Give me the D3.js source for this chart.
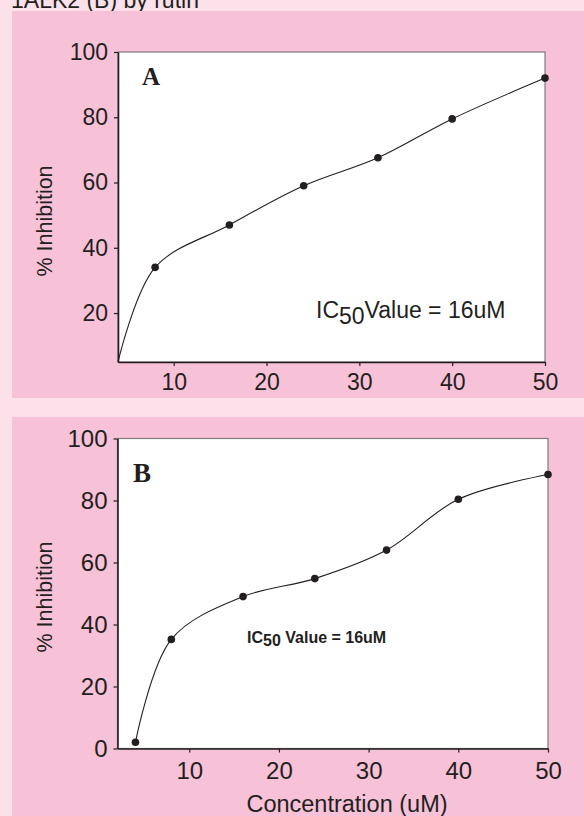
<!DOCTYPE html>
<html>
<head>
<meta charset="utf-8">
<script src="https://cdn.jsdelivr.net/npm/d3@7"></script>
<style>
  html, body { margin: 0; padding: 0; background: #fce1eb; }
  svg { display: block; }
  .tick text { font-family: "Liberation Sans", Arial, sans-serif; fill: #231f20; }
</style>
</head>
<body>
<svg id="fig" width="584" height="816"></svg>
<script>
// Panel A: ALK1 inhibition by concentration
const concA = [8, 16, 24, 32, 40, 50];
const inhibA = [34, 47, 59, 67.6, 79.5, 92];
const curveStartA = [4, 5];   // fitted curve begins at the axis origin

// Panel B: ALK2 inhibition by concentration
const concB = [4, 8, 16, 24, 32, 40, 50];
const inhibB = [2, 35.2, 49, 54.8, 64, 80.4, 88.4];

const xTicks = [10, 20, 30, 40, 50];
const yTicksA = [20, 40, 60, 80, 100];
const yTicksB = [0, 20, 40, 60, 80, 100];

const captionText = "1ALK2 (B) by rutin";
const yLabel = "% Inhibition";
const xLabel = "Concentration (uM)";

const ink = "#231f20";
const svg = d3.select("#fig");

// page caption (top line runs past the page edge)
svg.append("text")
  .attr("x", 11).attr("y", 8)
  .attr("font-family", "Liberation Sans, Arial, sans-serif")
  .attr("font-size", 23)
  .attr("fill", ink)
  .text(captionText);

// pink panel backgrounds
svg.append("rect").attr("x", 12).attr("y", 11).attr("width", 572).attr("height", 387).attr("fill", "#f7c1d7");
svg.append("rect").attr("x", 12).attr("y", 417).attr("width", 572).attr("height", 399).attr("fill", "#f7c1d7");

function panel(cfg) {
  const g = svg.append("g");
  const x = d3.scaleLinear().domain(cfg.xDomain).range([cfg.left, cfg.right]);
  const y = d3.scaleLinear().domain(cfg.yDomain).range([cfg.bottom, cfg.top]);

  // plot area
  g.append("rect")
    .attr("x", cfg.left).attr("y", cfg.top)
    .attr("width", cfg.right - cfg.left).attr("height", cfg.bottom - cfg.top)
    .attr("fill", "#fff").attr("stroke", "#7d7b7c").attr("stroke-width", 1.2);

  // axes
  const xa = g.append("g").attr("transform", `translate(0,${cfg.bottom})`)
    .call(d3.axisBottom(x).tickValues(xTicks).tickSize(4).tickSizeOuter(0).tickPadding(cfg.xPad));
  const ya = g.append("g").attr("transform", `translate(${cfg.left},0)`)
    .call(d3.axisLeft(y).tickValues(cfg.yTicks).tickSize(4).tickSizeOuter(0).tickPadding(6));
  [xa, ya].forEach(a => {
    a.attr("font-size", cfg.tickFont).attr("font-family", "Liberation Sans, Arial, sans-serif");
    a.select(".domain").attr("stroke", ink).attr("stroke-width", 1.6);
    a.selectAll(".tick line").attr("stroke", ink).attr("stroke-width", 1.2);
    a.selectAll(".tick text").attr("font-size", cfg.tickFont).attr("fill", ink);
  });

  // fitted curve
  const line = d3.line().x(d => x(d[0])).y(d => y(d[1])).curve(d3.curveCatmullRom.alpha(0.5));
  g.append("path").datum(cfg.curve)
    .attr("d", line).attr("fill", "none").attr("stroke", ink).attr("stroke-width", 1.1);

  // measured points
  g.selectAll("circle.pt").data(cfg.points).join("circle")
    .attr("class", "pt")
    .attr("cx", d => x(d[0])).attr("cy", d => y(d[1])).attr("r", 3.8)
    .attr("fill", ink);

  // panel letter
  g.append("text")
    .attr("x", cfg.letterX).attr("y", cfg.letterY)
    .attr("font-family", "Liberation Serif, Times New Roman, serif")
    .attr("font-weight", "bold").attr("font-size", cfg.letterSize)
    .attr("fill", ink).text(cfg.letter);

  // y axis title
  g.append("text")
    .attr("transform", `translate(${cfg.yLabelX},${cfg.yLabelY}) rotate(-90)`)
    .attr("text-anchor", "middle")
    .attr("font-family", "Liberation Sans, Arial, sans-serif")
    .attr("font-size", 21.5).attr("fill", ink)
    .text(yLabel);

  // IC50 annotation
  const t = g.append("text")
    .attr("x", cfg.icX).attr("y", cfg.icY)
    .attr("font-family", "Liberation Sans, Arial, sans-serif")
    .attr("font-size", cfg.icSize).attr("font-weight", cfg.icWeight)
    .attr("fill", ink);
  t.append("tspan").text("IC");
  t.append("tspan").attr("dy", cfg.subDy).text("50");
  t.append("tspan").attr("dy", -cfg.subDy).text(cfg.icRest);

  return { x, y, g };
}

panel({
  xDomain: [4, 50], yDomain: [5, 100],
  left: 118, right: 545, top: 52, bottom: 362,
  yTicks: yTicksA, tickFont: 23, xPad: 8,
  curve: [curveStartA].concat(concA.map((c, i) => [c, inhibA[i]])),
  points: concA.map((c, i) => [c, inhibA[i]]),
  letter: "A", letterX: 142, letterY: 85, letterSize: 25,
  yLabelX: 52, yLabelY: 221,
  icX: 316, icY: 318, icSize: 23, icWeight: "normal", subDy: 6, icRest: "Value = 16uM"
});

panel({
  xDomain: [2, 50], yDomain: [0, 100],
  left: 117.5, right: 548, top: 438.5, bottom: 748.5,
  yTicks: yTicksB, tickFont: 24, xPad: 9,
  curve: concB.map((c, i) => [c, inhibB[i]]),
  points: concB.map((c, i) => [c, inhibB[i]]),
  letter: "B", letterX: 133, letterY: 482, letterSize: 27,
  yLabelX: 52, yLabelY: 597,
  icX: 247, icY: 643, icSize: 16, icWeight: "bold", subDy: 3, icRest: " Value = 16uM"
});

// x axis title (lower panel)
svg.append("text")
  .attr("x", 347).attr("y", 812)
  .attr("text-anchor", "middle")
  .attr("font-family", "Liberation Sans, Arial, sans-serif")
  .attr("font-size", 23.5).attr("fill", ink)
  .text(xLabel);
</script>
</body>
</html>
